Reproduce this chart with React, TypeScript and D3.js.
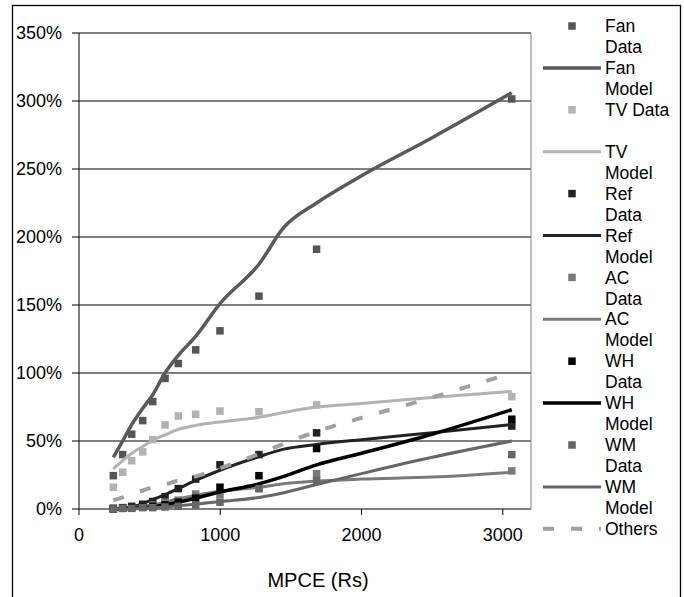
import React from "react";
import * as d3 from "d3";

const mpceData = [243, 309, 373, 451, 522, 609, 703, 826, 998, 1274, 1682, 3064];
const mpceModel = [243, 309, 373, 451, 522, 609, 703, 826, 998, 1274, 1450, 1682, 2000, 2500, 3064];

const fanData = [24.5, 40, 55, 65, 79, 96, 107, 117, 131, 156.5, 191, 301.5];
const fanModel = [38, 50, 62, 74, 84, 100, 113, 127, 151, 180, 207, 225, 245, 273, 306];
const tvData = [16, 27, 35.5, 42, 51, 61.8, 68.4, 69.6, 72, 71.5, 76.5, 82.6];
const tvModel = [29.5, 35.5, 41, 46, 50.5, 54.5, 58.5, 61.5, 64, 67.5, 71, 75, 77.5, 82, 86.5];
const refData = [0.5, 1, 2, 3.5, 5.5, 9, 15, 22, 32.5, 40, 56, 61];
const refModel = [0, 0.5, 1.5, 4, 7, 10.5, 15, 21, 28.5, 38.5, 44, 47.5, 51, 56, 62];
const acData = [0.5, 0.5, 1, 1.5, 3, 5, 6.5, 11, 10.5, 15, 26, 28];
const acModel = [0, 0.5, 1, 2, 3, 5, 7.5, 10, 13, 16, 18.5, 20.5, 22, 23.5, 27];
const whData = [0, 0.5, 1, 1.5, 2, 3, 5, 8, 16, 24.5, 44.5, 66];
const whModel = [0, 0, 0.5, 1, 1.5, 3, 5, 8, 12.5, 18.5, 24, 32.5, 41, 55, 73];
const wmData = [0, 0.5, 0.5, 1, 1, 1.5, 2, 3, 5, 15, 21, 40];
const wmModel = [0, 0, 0, 0.5, 1, 1.5, 2.5, 3.5, 5.5, 8.5, 12, 18, 26, 38, 50];
const othersModel = [6.5, 8.5, 11, 13.5, 16, 18, 21, 24, 30, 40.5, 48, 57, 67, 82, 100];

const yTicks = [0, 50, 100, 150, 200, 250, 300, 350];
const xTicks = [0, 1000, 2000, 3000];

type Entry = { lines: string[]; kind: "square" | "line" | "dash"; color: string; values: number[]; width?: number };

const series: Entry[] = [
  { lines: ["Fan", "Data"], kind: "square", color: "#555555", values: fanData },
  { lines: ["Fan", "Model"], kind: "line", color: "#595959", values: fanModel, width: 3.5 },
  { lines: ["TV Data"], kind: "square", color: "#b2b2b2", values: tvData },
  { lines: ["TV", "Model"], kind: "line", color: "#b2b2b2", values: tvModel, width: 3 },
  { lines: ["Ref", "Data"], kind: "square", color: "#222222", values: refData },
  { lines: ["Ref", "Model"], kind: "line", color: "#222222", values: refModel, width: 3 },
  { lines: ["AC", "Data"], kind: "square", color: "#7a7a7a", values: acData },
  { lines: ["AC", "Model"], kind: "line", color: "#7a7a7a", values: acModel, width: 3 },
  { lines: ["WH", "Data"], kind: "square", color: "#000000", values: whData },
  { lines: ["WH", "Model"], kind: "line", color: "#000000", values: whModel, width: 3.5 },
  { lines: ["WM", "Data"], kind: "square", color: "#666666", values: wmData },
  { lines: ["WM", "Model"], kind: "line", color: "#666666", values: wmModel, width: 3 },
  { lines: ["Others"], kind: "dash", color: "#a0a0a0", values: othersModel, width: 4 },
];

const FONT = "'Liberation Sans', Arial, sans-serif";

export default function App() {
  const x = d3.scaleLinear().domain([0, 3200]).range([79, 531]);
  const y = d3.scaleLinear().domain([0, 350]).range([509, 33]);
  const line = d3
    .line<[number, number]>()
    .x((d) => x(d[0]))
    .y((d) => y(d[1]))
    .curve(d3.curveMonotoneX);
  const sq = 7.5;
  const legY0 = 26;
  const legStep = 41.9;

  return (
    <svg width={684} height={597} style={{ position: "absolute", left: 0, top: 0, background: "#fff" }} fontFamily={FONT}>
      <rect x={12.5} y={5.5} width={668} height={600} fill="#fff" stroke="#000" strokeWidth={1.3} />
      {yTicks.map((t) => (
        <g key={t}>
          <line x1={72} x2={531} y1={y(t)} y2={y(t)} stroke="#000" strokeWidth={1} />
          <text x={62} y={y(t)} dy="0.35em" textAnchor="end" fontSize={18} fill="#000">
            {t}%
          </text>
        </g>
      ))}
      <line x1={79} x2={79} y1={33} y2={509} stroke="#000" />
      <line x1={531} x2={531} y1={33} y2={509} stroke="#808080" />
      {xTicks.map((t) => (
        <g key={t}>
          <line x1={x(t)} x2={x(t)} y1={509} y2={515} stroke="#000" />
          <text x={x(t)} y={535} dy="0.35em" textAnchor="middle" fontSize={18} fill="#000">
            {t}
          </text>
        </g>
      ))}
      <text x={318} y={580} dy="0.35em" textAnchor="middle" fontSize={20} fill="#000">
        MPCE (Rs)
      </text>
      {series.map((s, i) => {
        if (s.kind === "square") {
          return (
            <g key={i}>
              {s.values.map((v, j) => (
                <rect key={j} x={x(mpceData[j]) - sq / 2} y={y(v) - sq / 2} width={sq} height={sq} fill={s.color} />
              ))}
            </g>
          );
        }
        const pts = mpceModel.map((m, j) => [m, s.values[j]] as [number, number]);
        return (
          <path
            key={i}
            d={line(pts) || ""}
            fill="none"
            stroke={s.color}
            strokeWidth={s.width}
            strokeDasharray={s.kind === "dash" ? "11,17" : undefined}
          />
        );
      })}
      {series.map((s, i) => {
        const ly = legY0 + i * legStep;
        return (
          <g key={"l" + i}>
            {s.kind === "square" ? (
              <rect x={572 - sq / 2} y={ly - sq / 2} width={sq} height={sq} fill={s.color} />
            ) : (
              <line
                x1={543}
                x2={601}
                y1={ly}
                y2={ly}
                stroke={s.color}
                strokeWidth={s.width}
                strokeDasharray={s.kind === "dash" ? "11,17" : undefined}
              />
            )}
            {s.lines.map((t, k) => (
              <text key={k} x={605} y={ly + k * 21} dy="0.35em" fontSize={17.5} fill="#000">
                {t}
              </text>
            ))}
          </g>
        );
      })}
    </svg>
  );
}
